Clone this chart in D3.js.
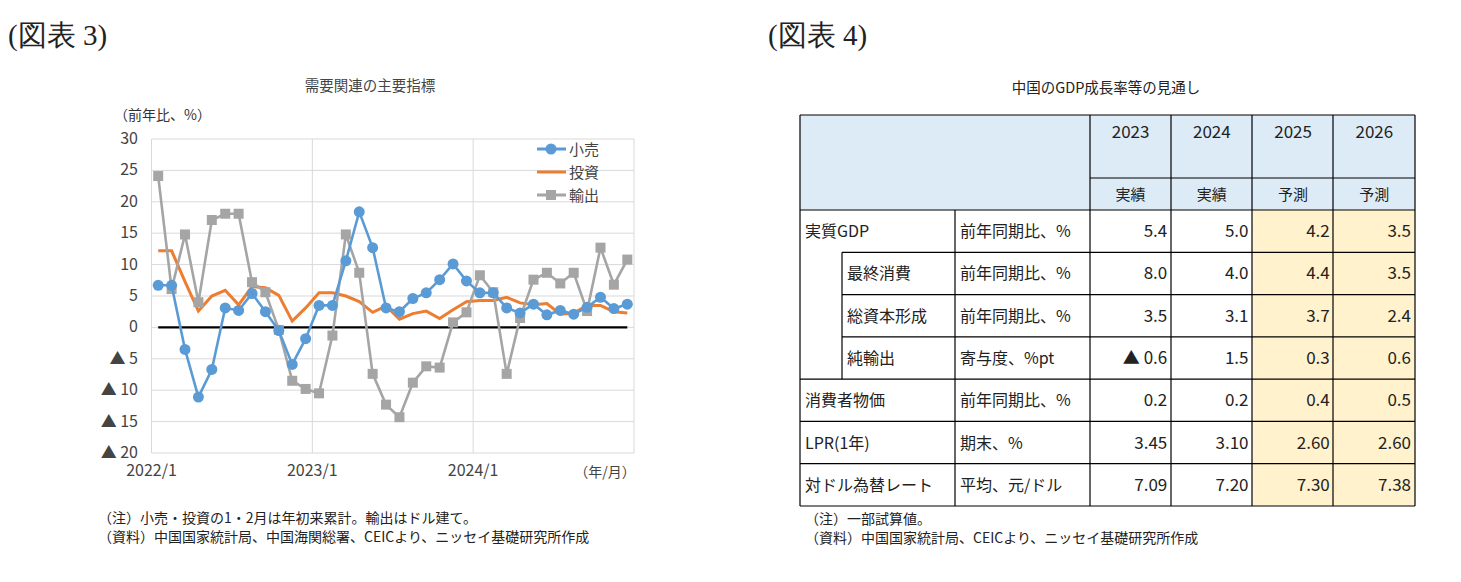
<!DOCTYPE html>
<html><head><meta charset="utf-8">
<script src="https://cdn.jsdelivr.net/npm/d3@7"></script>
<style>
body{margin:0;background:#fff;}
text{font-family:"Noto Sans CJK JP","Noto Sans",sans-serif;}
</style></head>
<body><svg id="c" width="1461" height="582"></svg>
<script>
// ── chart data (図表3) ──
const months = d3.range(36);
const retail = [6.7,6.7,-3.5,-11.1,-6.7,3.1,2.7,5.4,2.5,-0.5,-5.9,-1.8,
  3.5,3.5,10.6,18.4,12.7,3.1,2.5,4.6,5.5,7.6,10.1,7.4,
  5.5,5.5,3.1,2.3,3.7,2.0,2.7,2.1,3.2,4.8,3.0,3.7];
const invest = [12.2,12.2,7.3,2.6,5.0,5.9,3.6,6.5,6.3,5.1,1.0,3.1,
  5.5,5.5,5.0,4.1,2.4,3.4,1.3,2.2,2.6,1.4,2.8,4.1,
  4.3,4.3,4.8,3.9,3.6,3.8,2.1,2.3,3.5,3.5,2.5,2.3];
const exports_ = [24.1,6.1,14.8,4.0,17.1,18.1,18.1,7.2,5.6,-0.4,-8.5,-9.8,
  -10.5,-1.3,14.8,8.7,-7.4,-12.3,-14.3,-8.8,-6.2,-6.4,0.8,2.4,
  8.3,5.6,-7.4,1.5,7.6,8.7,7.0,8.7,2.6,12.7,6.8,10.8];
const yTicks = [30,25,20,15,10,5,0,-5,-10,-15,-20];
const xLabels = [{i:0,t:"2022/1"},{i:12,t:"2023/1"},{i:24,t:"2024/1"}];

// ── table data (図表4) ──
const years = ["2023","2024","2025","2026"];
const yearKind = ["実績","実績","予測","予測"];
const rowNames = ["実質GDP","最終消費","総資本形成","純輸出","消費者物価","LPR(1年)","対ドル為替レート"];
const rowIndent = [false,true,true,true,false,false,false];
const rowUnits = ["前年同期比、%","前年同期比、%","前年同期比、%","寄与度、%pt","前年同期比、%","期末、%","平均、元/ドル"];
const rowValues = [
  ["5.4","5.0","4.2","3.5"],
  ["8.0","4.0","4.4","3.5"],
  ["3.5","3.1","3.7","2.4"],
  ["▲ 0.6","1.5","0.3","0.6"],
  ["0.2","0.2","0.4","0.5"],
  ["3.45","3.10","2.60","2.60"],
  ["7.09","7.20","7.30","7.38"]];

const svg = d3.select("#c");

// ── left chart ──
svg.append("text").attr("x",8).attr("y",45).attr("font-size",29)
  .style("font-family","'Liberation Serif','DejaVu Serif',serif").attr("fill","#222").text("(図表 3)");
svg.append("text").attr("x",370).attr("y",91).attr("text-anchor","middle").attr("font-size",14.5).attr("fill","#444").text("需要関連の主要指標");
svg.append("text").attr("x",114).attr("y",120).attr("font-size",14).attr("fill","#333").text("（前年比、%）");

const x = d3.scaleBand().domain(months).range([151.5,634]);
const y = d3.scaleLinear().domain([-20,30]).range([453,139]);
const g = svg.append("g");
g.selectAll("line.h").data(yTicks).join("line")
  .attr("x1",151.5).attr("x2",634).attr("y1",d=>y(d)).attr("y2",d=>y(d)).attr("stroke","#d9d9d9");
g.selectAll("line.v").data([0,12,24,36]).join("line")
  .attr("x1",d=>d===36?634:x(d)).attr("x2",d=>d===36?634:x(d)).attr("y1",139).attr("y2",453).attr("stroke","#d9d9d9");
g.selectAll("text.yt").data(yTicks).join("text")
  .attr("x",138).attr("y",d=>y(d)+5).attr("text-anchor","end").attr("font-size",16).attr("fill","#444")
  .text(d=>d<0?"▲ "+(-d):d);
g.selectAll("text.xt").data(xLabels).join("text")
  .attr("x",d=>x(d.i)).attr("y",476).attr("text-anchor","middle").attr("font-size",16).attr("fill","#444").text(d=>d.t);
svg.append("text").attr("x",605).attr("y",477).attr("text-anchor","middle").attr("font-size",14).attr("fill","#444").text("（年/月）");
g.append("line").attr("x1",x(0)+x.bandwidth()/2).attr("x2",x(35)+x.bandwidth()/2)
  .attr("y1",y(0)).attr("y2",y(0)).attr("stroke","#000").attr("stroke-width",2.2);

const cx = i=>x(i)+x.bandwidth()/2;
const line = d3.line().x((d,i)=>cx(i)).y(d=>y(d));
g.append("path").datum(invest).attr("d",line).attr("fill","none").attr("stroke","#ed7d31").attr("stroke-width",3);
g.append("path").datum(exports_).attr("d",line).attr("fill","none").attr("stroke","#a5a5a5").attr("stroke-width",2.6);
g.selectAll("rect.ex").data(exports_).join("rect")
  .attr("x",(d,i)=>cx(i)-5).attr("y",d=>y(d)-5).attr("width",10).attr("height",10).attr("fill","#a5a5a5");
g.append("path").datum(retail).attr("d",line).attr("fill","none").attr("stroke","#5b9bd5").attr("stroke-width",2.6);
g.selectAll("circle.rt").data(retail).join("circle")
  .attr("cx",(d,i)=>cx(i)).attr("cy",d=>y(d)).attr("r",5.5).attr("fill","#5b9bd5");

// legend
const leg = [{n:"小売",c:"#5b9bd5",m:"c"},{n:"投資",c:"#ed7d31",m:null},{n:"輸出",c:"#a5a5a5",m:"s"}];
leg.forEach((l,k)=>{
  const ly = 149+k*23;
  svg.append("line").attr("x1",537).attr("x2",566).attr("y1",ly).attr("y2",ly).attr("stroke",l.c).attr("stroke-width",3);
  if(l.m==="c") svg.append("circle").attr("cx",551).attr("cy",ly).attr("r",5.5).attr("fill",l.c);
  if(l.m==="s") svg.append("rect").attr("x",546).attr("y",ly-5).attr("width",10).attr("height",10).attr("fill",l.c);
  svg.append("text").attr("x",569).attr("y",ly+6).attr("font-size",15).attr("fill","#444").text(l.n);
});

svg.append("text").attr("x",98).attr("y",523).attr("font-size",14).attr("fill","#222").text("（注）小売・投資の1・2月は年初来累計。輸出はドル建て。");
svg.append("text").attr("x",98).attr("y",542).attr("font-size",14).attr("fill","#222").text("（資料）中国国家統計局、中国海関総署、CEICより、ニッセイ基礎研究所作成");

// ── right table ──
svg.append("text").attr("x",768).attr("y",45).attr("font-size",29)
  .style("font-family","'Liberation Serif','DejaVu Serif',serif").attr("fill","#222").text("(図表 4)");
svg.append("text").attr("x",1106).attr("y",93).attr("text-anchor","middle").attr("font-size",14.5).attr("fill","#222").text("中国のGDP成長率等の見通し");

const tx = {left:800, sub:842, unit:955, cols:[1090,1171,1252,1333], right:1415};
const colX = d3.scaleBand().domain(d3.range(4)).range([tx.cols[0], tx.right]);
const rowY = d3.scaleBand().domain(d3.range(rowNames.length)).range([210,506]);
const t = svg.append("g");
t.append("rect").attr("x",tx.left).attr("y",115).attr("width",tx.right-tx.left).attr("height",95).attr("fill","#ddebf7");
rowNames.forEach((r,ri)=>{
  [2,3].forEach(ci=>{
    t.append("rect").attr("x",colX(ci)).attr("y",rowY(ri)).attr("width",colX.bandwidth()).attr("height",rowY.bandwidth()).attr("fill","#fff2cc");
  });
});
years.forEach((yr,ci)=>{
  t.append("text").attr("x",colX(ci)+colX.bandwidth()/2).attr("y",138).attr("text-anchor","middle").attr("font-size",17).attr("fill","#222").text(yr);
  t.append("text").attr("x",colX(ci)+colX.bandwidth()/2).attr("y",200).attr("text-anchor","middle").attr("font-size",15).attr("fill","#222").text(yearKind[ci]);
});
rowNames.forEach((r,ri)=>{
  const yy = rowY(ri)+rowY.bandwidth()/2+6;
  t.append("text").attr("x",rowIndent[ri]?tx.sub+5:tx.left+5).attr("y",yy).attr("font-size",16).attr("fill","#222").text(r);
  t.append("text").attr("x",tx.unit+5).attr("y",yy).attr("font-size",16).attr("fill","#222").text(rowUnits[ri]);
  rowValues[ri].forEach((v,ci)=>{
    t.append("text").attr("x",colX(ci)+colX.bandwidth()-4).attr("y",yy).attr("text-anchor","end").attr("font-size",17).attr("fill","#222").text(v);
  });
});
const L = (x1,y1,x2,y2)=>t.append("line").attr("x1",x1).attr("y1",y1).attr("x2",x2).attr("y2",y2).attr("stroke","#000").attr("stroke-width",1.2);
L(tx.left,115,tx.right,115); L(tx.left,506,tx.right,506);
L(tx.left,115,tx.left,506); L(tx.right,115,tx.right,506);
tx.cols.forEach(cc=>L(cc,115,cc,506));
L(tx.cols[0],178,tx.right,178);
L(tx.left,210,tx.right,210);
rowNames.forEach((r,ri)=>{
  if(ri===0) return;
  L(rowIndent[ri]?tx.sub:tx.left,rowY(ri),tx.right,rowY(ri));
});
L(tx.sub,rowY(1),tx.sub,rowY(4));
L(tx.unit,210,tx.unit,506);

svg.append("text").attr("x",805).attr("y",524).attr("font-size",14).attr("fill","#222").text("（注）一部試算値。");
svg.append("text").attr("x",805).attr("y",543).attr("font-size",14).attr("fill","#222").text("（資料）中国国家統計局、CEICより、ニッセイ基礎研究所作成");
</script></body></html>
